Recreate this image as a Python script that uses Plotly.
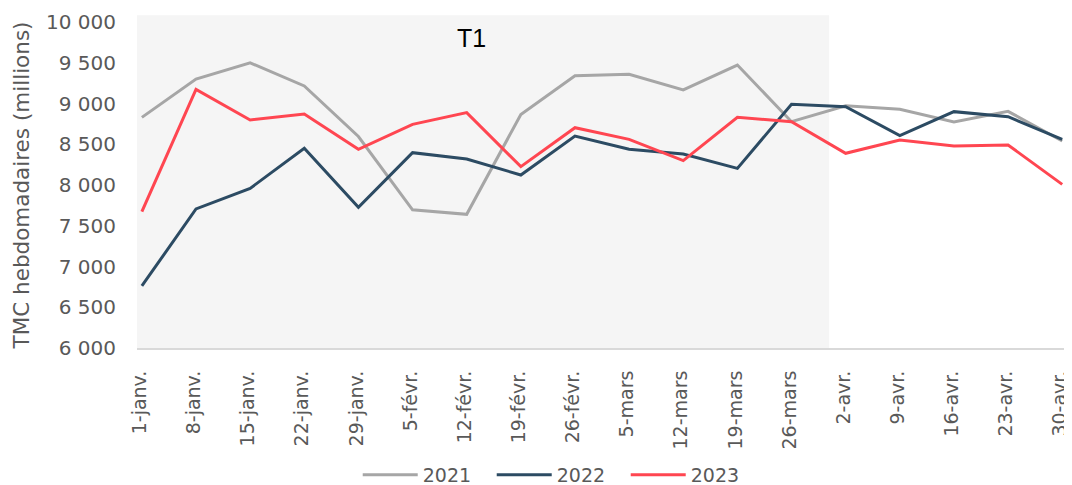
import plotly.graph_objects as go

weeks = ["1-janv.", "8-janv.", "15-janv.", "22-janv.", "29-janv.", "5-févr.", "12-févr.",
         "19-févr.", "26-févr.", "5-mars", "12-mars", "19-mars", "26-mars", "2-avr.",
         "9-avr.", "16-avr.", "23-avr.", "30-avr."]
v2021 = [8830, 9300, 9500, 9215, 8595, 7695, 7640, 8865, 9340, 9358, 9166, 9472, 8777,
         8973, 8929, 8773, 8904, 8540]
v2022 = [6761, 7706, 7959, 8450, 7726, 8397, 8319, 8123, 8601, 8438, 8380, 8204, 8990,
         8961, 8605, 8900, 8838, 8560]
v2023 = [7673, 9174, 8798, 8871, 8438, 8744, 8888, 8225, 8703, 8560, 8299, 8831, 8777,
         8389, 8552, 8479, 8491, 8008]
series = [("2021", v2021, "#A6A6A6"), ("2022", v2022, "#2C4B63"), ("2023", v2023, "#FF4651")]

font = "DejaVu Sans"
grey = "#595959"
fig = go.Figure()
for name, vals, col in series:
    fig.add_trace(go.Scatter(x=weeks, y=vals, mode="lines", name=name,
                             line=dict(color=col, width=3)))

fig.add_shape(type="rect", xref="paper", yref="paper", x0=0, x1=0.745, y0=0, y1=1.021,
              fillcolor="#F5F5F5", line=dict(width=0), layer="below")

fig.add_annotation(x=6.08, y=9800, xref="x", yref="y", text="T1", showarrow=False,
                   font=dict(family="Liberation Sans", size=25, color="#000000"))

# page body has an 8px margin, so the figure is 8px smaller and offset accordingly
fig.update_layout(
    width=1064, height=477,
    margin=dict(l=129, r=6, t=14, b=137, autoexpand=False),
    paper_bgcolor="white", plot_bgcolor="white",
    separators=", ",
    font=dict(family=font, color=grey, size=19),
    showlegend=True,
    legend=dict(orientation="h", xref="container", yref="container",
                x=0.5176, xanchor="center", y=0.021, yanchor="middle",
                font=dict(size=19, color=grey), itemwidth=55,
                entrywidth=64, entrywidthmode="pixels",
                traceorder="normal"),
    xaxis=dict(type="category", range=[-0.09, 17.07], tickangle=-90,
               showline=True, linecolor="#D9D9D9", linewidth=2, showgrid=False,
               ticks="", ticklen=0, automargin=False, ticklabelstandoff=13,
               ticklabelshift=-2,
               tickfont=dict(size=19, color=grey)),
    yaxis=dict(range=[6000, 10000], dtick=500, tickformat=",d", showgrid=False,
               zeroline=False, showline=False, ticks="", automargin=False,
               ticklabelstandoff=20,
               tickfont=dict(size=20, color=grey),
               title=dict(text="TMC hebdomadaires (millions)", standoff=10,
                          font=dict(size=21.5, color=grey))),
)

fig.write_html("out.html")
